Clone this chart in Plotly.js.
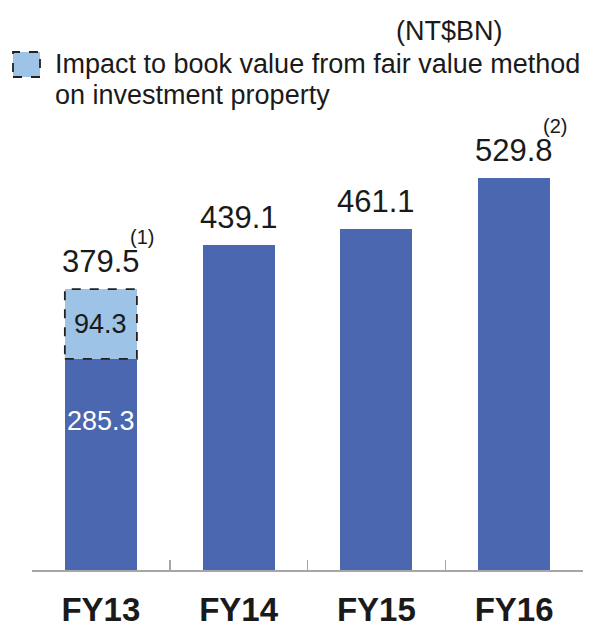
<!DOCTYPE html>
<html>
<head>
<meta charset="utf-8">
<script src="https://cdn.plot.ly/plotly-3.0.1.min.js"></script>
<style>html,body{margin:0;padding:0;background:#fff;}#chart{width:594px;height:628px;}</style>
</head>
<body>
<div id="chart"></div>
<script>
// ---- data ----
var categories = ["FY13", "FY14", "FY15", "FY16"];
var bookValue = [285.3, 439.1, 461.1, 529.8];
var fairValueImpact = [94.3, null, null, null];
var totals = [379.5, 439.1, 461.1, 529.8];
var footnotes = ["(1)", "", "", "(2)"];
var unitLabel = "(NT$BN)";
var legendLabel1 = "Impact to book value from fair value method";
var legendLabel2 = "on investment property";

// ---- layout helpers ----
var W = 594, H = 628;
var M = {l: 32, r: 11, t: 100, b: 58};
var PW = W - M.l - M.r, PH = H - M.t - M.b;
function px(x) { return (x - M.l) / PW; }
function py(y) { return (H - M.b - y) / PH; }

var DARK = "#4A67B0", LIGHT = "#9DC3E6", TXT = "#1a1a1a";
var FONT = "Liberation Sans, Arial, sans-serif";
var barW = 0.523;

var traces = [
  {type: "bar", x: categories, y: bookValue, width: barW,
   marker: {color: DARK}, hoverinfo: "skip", showlegend: false},
  {type: "bar", x: categories, y: fairValueImpact, width: barW,
   marker: {color: LIGHT}, hoverinfo: "skip", showlegend: false}
];

var annotations = [];
categories.forEach(function (c, i) {
  annotations.push({x: c, y: totals[i], xref: "x", yref: "y", text: totals[i].toFixed(1),
    showarrow: false, yanchor: "middle", yshift: 27.5, font: {family: FONT, size: 31, color: TXT}});
  if (footnotes[i]) {
    annotations.push({x: c, y: totals[i], xref: "x", yref: "y", text: footnotes[i],
      showarrow: false, xanchor: "left", yanchor: "middle", xshift: 27, yshift: 52,
      font: {family: FONT, size: 20, color: TXT}});
  }
  if (fairValueImpact[i] != null) {
    annotations.push({x: c, y: bookValue[i] + fairValueImpact[i] / 2, xref: "x", yref: "y",
      text: fairValueImpact[i].toFixed(1), showarrow: false, yanchor: "middle",
      font: {family: FONT, size: 27, color: TXT}});
    annotations.push({x: c, y: bookValue[i], xref: "x", yref: "y",
      text: bookValue[i].toFixed(1), showarrow: false, yanchor: "middle", yshift: -62,
      font: {family: FONT, size: 27, color: "#ffffff"}});
  }
});
annotations.push({x: px(505), y: py(31), xref: "paper", yref: "paper", text: unitLabel,
  showarrow: false, yanchor: "middle", font: {family: FONT, size: 27, color: TXT}});
annotations.push({x: px(53), y: py(64), xref: "paper", yref: "paper", text: legendLabel1,
  showarrow: false, xanchor: "left", yanchor: "middle", font: {family: FONT, size: 27, color: TXT}});
annotations.push({x: px(53), y: py(95), xref: "paper", yref: "paper", text: legendLabel2,
  showarrow: false, xanchor: "left", yanchor: "middle", font: {family: FONT, size: 27, color: TXT}});

var shapes = [];
categories.forEach(function (c, i) {
  if (fairValueImpact[i] != null) {
    shapes.push({type: "rect", xref: "x", yref: "y",
      x0: i - barW / 2, x1: i + barW / 2, y0: bookValue[i], y1: bookValue[i] + fairValueImpact[i],
      line: {color: "#222", width: 1.8, dash: "dash"}, fillcolor: "rgba(0,0,0,0)"});
  }
});
shapes.push({type: "rect", xref: "paper", yref: "paper",
  x0: px(13), x1: px(40), y0: py(77), y1: py(52),
  fillcolor: LIGHT, line: {color: "#222", width: 1.8, dash: "dash"}});

var layout = {
  width: W, height: H, margin: M,
  paper_bgcolor: "#fff", plot_bgcolor: "#fff",
  barmode: "stack",
  showlegend: false,
  xaxis: {type: "category", range: [-0.5, 3.5], showline: true, linecolor: "#a6a6a6", linewidth: 1.5,
    ticks: "inside", tickson: "boundaries", ticklen: 10, tickcolor: "#a6a6a6", tickwidth: 1.5,
    showgrid: false, zeroline: false, ticklabelstandoff: 10,
    tickfont: {family: FONT, size: 33, color: TXT, weight: "bold"}, fixedrange: true},
  yaxis: {range: [0, 635], visible: false, showgrid: false, zeroline: false, fixedrange: true},
  annotations: annotations, shapes: shapes
};

Plotly.newPlot("chart", traces, layout, {displayModeBar: false, staticPlot: true});
</script>
</body>
</html>
